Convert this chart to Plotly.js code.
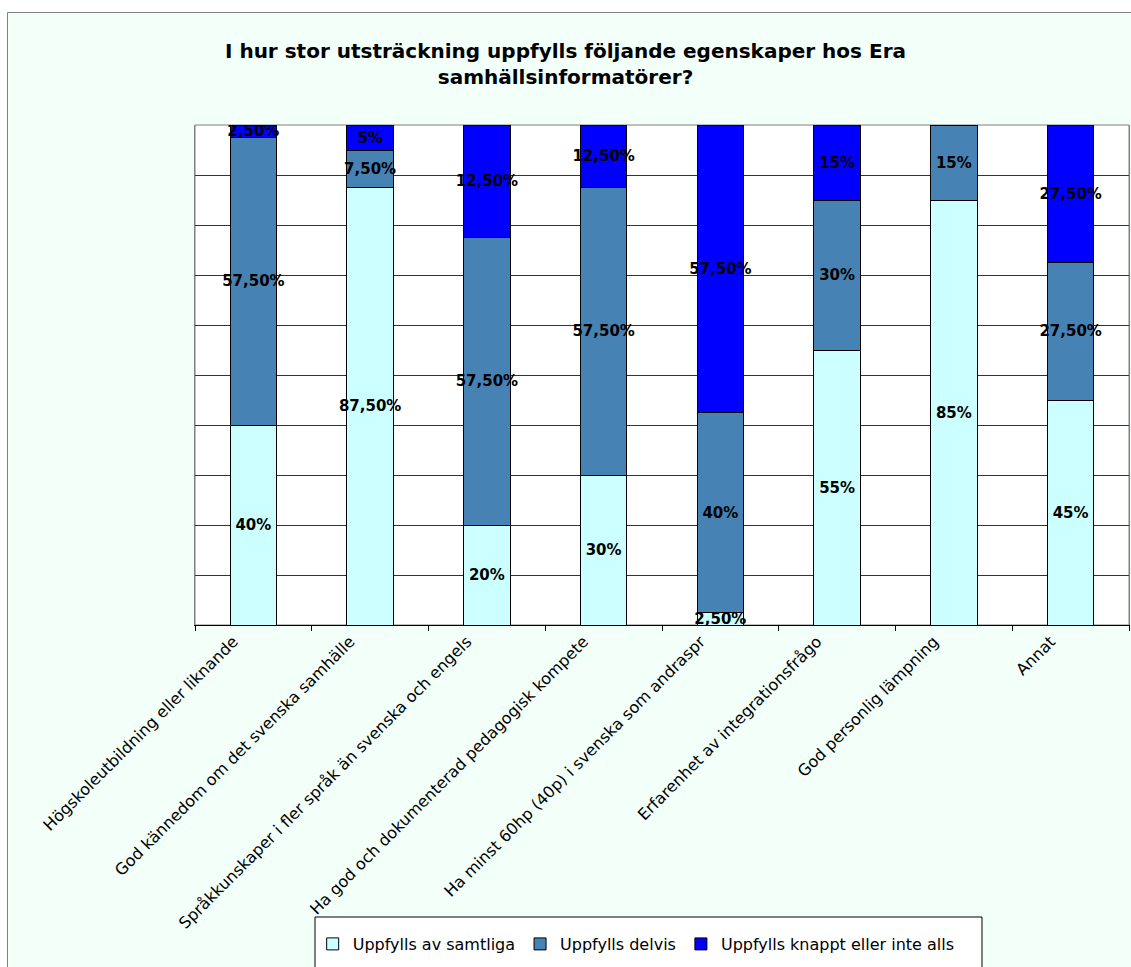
<!DOCTYPE html>
<html>
<head>
<meta charset="utf-8">
<script src="https://cdn.plot.ly/plotly-3.0.1.min.js"></script>
<style>html,body{margin:0;padding:0;background:#ffffff;}#chart{width:1131px;height:967px;}</style>
</head>
<body>
<div id="chart"></div>
<script>
// Categories (tick labels as visible, truncated like the original)
const categories = [
  "Högskoleutbildning eller liknande",
  "God kännedom om det svenska samhälle",
  "Språkkunskaper i fler språk än svenska och engels",
  "Ha god och dokumenterad pedagogisk kompete",
  "Ha minst 60hp (40p) i svenska som andraspr",
  "Erfarenhet av integrationsfrågo",
  "God personlig lämpning",
  "Annat"
];

const seriesNames = ["Uppfylls av samtliga", "Uppfylls delvis", "Uppfylls knappt eller inte alls"];

// Segment heights as drawn (percent)
const samtliga = [40, 87.5, 20, 30, 2.5, 55, 85, 45];
const delvis   = [57.5, 7.5, 57.5, 57.5, 40, 30, 15, 27.5];
const knappt   = [2.5, 5, 22.5, 12.5, 57.5, 15, 0, 27.5];

// Data labels as printed in the chart
const samtligaLabels = ["40%", "87,50%", "20%", "30%", "2,50%", "55%", "85%", "45%"];
const delvisLabels   = ["57,50%", "7,50%", "57,50%", "57,50%", "40%", "30%", "15%", "27,50%"];
const knapptLabels   = ["2,50%", "5%", "12,50%", "12,50%", "57,50%", "15%", "", "27,50%"];

const colors = ["#CCFFFF", "#4682B4", "#0000FF"];

const labelFont = {family: "DejaVu Sans", size: 15, color: "#000000", weight: "bold"};

function barTrace(name, values, labels, color) {
  return {
    type: "bar",
    name: name,
    x: categories,
    y: values,
    text: labels,
    textposition: "inside",
    insidetextanchor: "middle",
    textangle: 0,
    constraintext: "none",
    textfont: labelFont,
    insidetextfont: labelFont,
    marker: {color: color, line: {color: "#000000", width: 1}},
    hoverinfo: "x+y+name"
  };
}

const data = [
  barTrace(seriesNames[0], samtliga, samtligaLabels, colors[0]),
  barTrace(seriesNames[1], delvis, delvisLabels, colors[1]),
  barTrace(seriesNames[2], knappt, knapptLabels, colors[2])
];

const layout = {
  width: 1131,
  height: 967,
  barmode: "stack",
  bargap: 0.6,
  paper_bgcolor: "#ffffff",
  plot_bgcolor: "#ffffff",
  margin: {l: 195, r: 2, t: 125, b: 342, pad: 0},
  font: {family: "DejaVu Sans", color: "#000000"},
  title: {
    text: "I hur stor utsträckning uppfylls följande egenskaper hos Era<br>samhällsinformatörer?",
    font: {family: "DejaVu Sans", size: 20, color: "#000000", weight: "bold"},
    x: 0.5, xref: "container", xanchor: "center",
    y: 0.940, yref: "container", yanchor: "top"
  },
  xaxis: {
    type: "category",
    tickson: "boundaries",
    ticks: "outside",
    ticklen: 5,
    tickcolor: "#000000",
    tickangle: -45,
    ticklabelshift: -20,
    tickfont: {family: "DejaVu Sans", size: 16, color: "#000000"},
    showline: true,
    linecolor: "#000000",
    linewidth: 1,
    showgrid: false,
    zeroline: false,
    fixedrange: true
  },
  yaxis: {
    range: [0, 100],
    dtick: 10,
    tick0: 0,
    showticklabels: false,
    ticks: "",
    showgrid: true,
    gridcolor: "#333333",
    gridwidth: 1,
    showline: true,
    linecolor: "#808080",
    mirror: true,
    zeroline: false,
    fixedrange: true
  },
  legend: {
    orientation: "h",
    x: 0.126, xanchor: "left",
    y: -0.604, yanchor: "top",
    bgcolor: "rgba(0,0,0,0)",
    borderwidth: 0,
    font: {family: "DejaVu Sans", size: 16, color: "#000000"},
    traceorder: "normal"
  },
  shapes: [
    // chart area (mint) with gray border, extending beyond the right/bottom edge
    {type: "rect", xref: "paper", yref: "paper", x0: -0.20075, x1: 1.05, y0: 1.225, y1: -0.8,
     fillcolor: "#F3FFF9", line: {color: "#808080", width: 1}, layer: "below"},
    // plot area
    {type: "rect", xref: "paper", yref: "paper", x0: 0, x1: 1, y0: 0, y1: 1,
     fillcolor: "#ffffff", line: {color: "#808080", width: 1}, layer: "below"},
    // legend box
    {type: "rect", xref: "paper", yref: "paper", x0: 0.12848, x1: 0.84261, y0: -0.584, y1: -0.8,
     fillcolor: "#ffffff", line: {color: "#000000", width: 1}, layer: "below"}
  ]
};

Plotly.newPlot("chart", data, layout, {displayModeBar: false, staticPlot: false});
</script>
</body>
</html>
